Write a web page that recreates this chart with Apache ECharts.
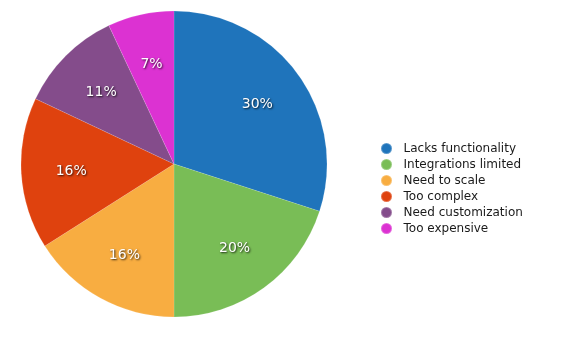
<!DOCTYPE html>
<html>
<head>
<meta charset="utf-8">
<script src="https://cdn.jsdelivr.net/npm/echarts@6/dist/echarts.min.js"></script>
<style>
  html, body { margin: 0; padding: 0; background: #fff; }
  #chart { width: 580px; height: 337px; }
</style>
</head>
<body>
<div id="chart"></div>
<script>
// Reasons for churn, share of respondents (%)
const categories = ['Lacks functionality', 'Integrations limited', 'Need to scale', 'Too complex', 'Need customization', 'Too expensive'];
const values = [30, 20, 16, 16, 11, 7];
const colors = ['#1f74bb', '#79bd56', '#f8ad41', '#df420e', '#844c8b', '#dc32d2'];

const data = categories.map((name, i) => ({ name, value: values[i], itemStyle: { color: colors[i] } }));

const center = [174, 164];
const radius = 153;
const font = '"DejaVu Sans", Verdana, sans-serif';

const chart = echarts.init(document.getElementById('chart'), null, { renderer: 'canvas' });
chart.setOption({
  animation: false,
  legend: {
    orient: 'vertical',
    left: 380,
    top: 142,
    padding: 0,
    icon: 'circle',
    itemWidth: 12,
    itemHeight: 11,
    itemGap: 3,
    textStyle: { fontFamily: font, fontSize: 12, lineHeight: 13, color: '#1a1a1a', padding: [0, 0, 0, 6] },
    data: categories
  },
  series: [
    {
      type: 'pie',
      center,
      radius: [0, radius],
      startAngle: 90,
      clockwise: true,
      label: { show: false },
      labelLine: { show: false },
      itemStyle: { borderColor: 'rgba(255,255,255,0.25)', borderWidth: 0.5 },
      emphasis: { disabled: true },
      data
    },
    {
      // transparent ring used only to place the percentage labels
      type: 'pie',
      center: [center[0], center[1] + 1],
      radius: [47, radius],
      startAngle: 90,
      clockwise: true,
      silent: true,
      itemStyle: { color: 'rgba(0,0,0,0)' },
      label: {
        show: true,
        position: 'inside',
        formatter: p => p.value + '%',
        fontFamily: font,
        fontSize: 14,
        color: '#fff',
        textShadowColor: 'rgba(0,0,0,0.8)',
        textShadowBlur: 2,
        textShadowOffsetX: 1,
        textShadowOffsetY: 1
      },
      labelLine: { show: false },
      data: categories.map((name, i) => ({ name: name, value: values[i] }))
    }
  ]
});
</script>
</body>
</html>
